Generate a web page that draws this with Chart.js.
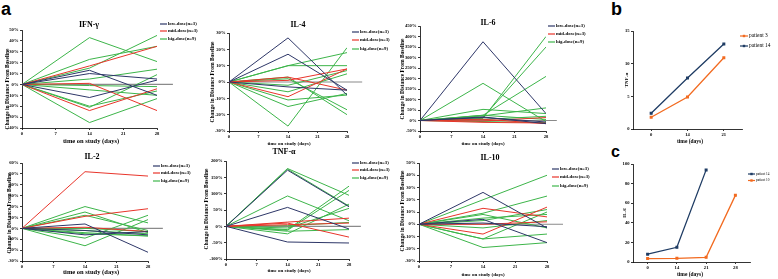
<!DOCTYPE html>
<html>
<head>
<meta charset="utf-8">
<script src="https://cdn.jsdelivr.net/npm/chart.js@4.4.1/dist/chart.umd.min.js"></script>
<style>
  html, body { margin: 0; padding: 0; background: #fff; width: 778px; height: 279px; overflow: hidden; position: relative; }
  .tag { position: absolute; font: bold 18px "Liberation Sans", Arial, sans-serif; line-height: 18px; color: #000; }
</style>
</head>
<body>
<div class="tag" style="left:1px;top:0px">a</div>
<div class="tag" style="left:611px;top:0px">b</div>
<div class="tag" style="left:611px;top:144px;font-size:16px;line-height:16px">c</div>
<script>
// ---- data ----
const days = [0, 14, 28];
const groups = ["low-dose(n=3)", "mid-dose(n=3)", "hig-dose(n=9)"];

// % change from baseline at day 0 / 14 / 28, one row per patient
const ifnLow = [[0, 13, -10], [0, 10, 5], [0, -12, 4]];
const ifnMid = [[0, 17, 35], [0, 1, -24], [0, -24, -4]];
const ifnHigh = [[0, 43, 21], [0, 23, 35], [0, 15, 45], [0, 5, 14], [0, -5, -10], [0, -20, -6], [0, -21, 9], [0, -35, -13], [0, -1, -2]];

const il4Low = [[0, 27, -8], [0, 17, -5], [0, -3, -5]];
const il4Mid = [[0, 3, -5], [0, -9, 8], [0, 1, 8]];
const il4High = [[0, 10, 18], [0, 10, 10], [0, -27, 21], [0, -15, -7], [0, -11, -8], [0, -6, 5], [0, 2, -17], [0, 3, -20], [0, -2, 7]];

const il6Low = [[0, 375, 33], [0, 17, -15], [0, 14, -7]];
const il6Mid = [[0, -2, 14], [0, -9, -12], [0, 6, -15]];
const il6High = [[0, 177, -5], [0, 53, 33], [0, 10, 400], [0, 15, 350], [0, 25, 210], [0, 22, 60], [0, 25, 5], [0, 5, 20], [0, -5, -10]];

const il2Low = [[0, 4, -22], [0, -6, -3], [0, -2, -6]];
const il2Mid = [[0, 52, 48], [0, 11, 18], [0, 1, -3]];
const il2High = [[0, 20, 5], [0, 15, -4], [0, -9, 12], [0, -16, 8], [0, -5, -7], [0, -2, -5], [0, 0, -3], [0, -4, -7], [0, 12, -2]];

const tnfLow = [[0, 172, 60], [0, 58, -8], [0, -48, -51]];
const tnfMid = [[0, 13, 25], [0, 10, -33], [0, 5, 10]];
const tnfHigh = [[0, 177, 95], [0, 175, 62], [0, 93, 17], [0, -10, 123], [0, -12, 110], [0, -23, 68], [0, -5, 55], [0, 2, 12], [0, -15, -10]];

const il10Low = [[0, 26, -3], [0, 4, -15], [0, 1, -2]];
const il10Mid = [[0, 13, 6], [0, -8, 14], [0, 0, 2]];
const il10High = [[0, 20, 40], [0, 9, 23], [0, -12, -8], [0, -19, -15], [0, 5, 8], [0, 3, 12], [0, -3, 3], [0, -12, 10], [0, 8, -3]];

// panel b: TNF-α per patient
const bDays = ["0", "14", "21"];
const bPatient3 = [1.8, 4.9, 10.9];
const bPatient14 = [2.4, 7.8, 13.0];

// panel c: IL-6 per patient
const cDays = ["0", "14", "21", "28"];
const cPatient14 = [8, 15, 94, null];
const cPatient10 = [3.5, 3.8, 4.8, 68];

// ---- styles ----
const NAVY = "#2e3768", RED = "#e8352b", GREEN = "#3db54a", GRAY = "#8a8a8a";
const ORANGE = "#f26b21", BLUE = "#1f3c64";
const SERIF = '"Liberation Serif", "Times New Roman", serif';

Chart.defaults.animation = false;
Chart.defaults.devicePixelRatio = 1;
Chart.defaults.color = "#000";
Chart.defaults.font.family = SERIF;

// titles, axis titles and legends drawn at page positions
const decor = {
  id: "decor",
  afterDraw(chart, args, o) {
    const ctx = chart.ctx;
    ctx.save();
    ctx.textBaseline = "middle";
    o.texts.forEach(t => {
      ctx.save();
      ctx.font = t.font;
      ctx.fillStyle = "#000";
      ctx.textAlign = "center";
      ctx.translate(t.x - o.ox, t.y - o.oy);
      if (t.rot) ctx.rotate(-Math.PI / 2);
      ctx.fillText(t.text, 0, 0);
      ctx.restore();
    });
    const lg = o.legend;
    ctx.font = lg.font;
    ctx.textAlign = "left";
    lg.items.forEach((it, i) => {
      const x = lg.x - o.ox, y = lg.ys[i] - o.oy;
      ctx.strokeStyle = it.color;
      ctx.lineWidth = 1.2;
      ctx.beginPath();
      ctx.moveTo(x, y);
      ctx.lineTo(x + lg.len, y);
      ctx.stroke();
      if (lg.marker) {
        ctx.fillStyle = it.color;
        ctx.fillRect(x + lg.len / 2 - 1.2, y - 1.2, 2.4, 2.4);
      }
      ctx.fillStyle = "#000";
      ctx.fillText(it.text, x + lg.len + 1, y);
    });
    ctx.restore();
  }
};

function axisStyle(extra) {
  return Object.assign({
    grid: { drawOnChartArea: false, drawTicks: true, tickLength: 2, color: "#000", lineWidth: 0.8 },
    border: { color: "#000", width: 0.8 },
  }, extra);
}

function makeChart(box, area, type, data, scales, decorOpts) {
  const c = document.createElement("canvas");
  c.width = box[2];
  c.height = box[3];
  c.style.cssText = `position:absolute;left:${box[0]}px;top:${box[1]}px;width:${box[2]}px;height:${box[3]}px`;
  document.body.appendChild(c);
  scales.x.afterFit = s => { s.height = box[1] + box[3] - area.b; };
  scales.y.afterFit = s => { s.width = area.l - box[0]; };
  decorOpts.ox = box[0];
  decorOpts.oy = box[1];
  return new Chart(c, {
    type: type,
    data: data,
    options: {
      responsive: false,
      layout: { padding: { left: 0, bottom: 0, top: area.t - box[1], right: box[0] + box[2] - area.r } },
      plugins: { legend: { display: false }, tooltip: { enabled: false }, decor: decorOpts },
      scales: scales
    },
    plugins: [decor]
  });
}

function lineSet(vals, color) {
  return {
    data: vals.map((v, i) => ({ x: days[i], y: v })),
    borderColor: color, borderWidth: 1, pointRadius: 0, tension: 0, fill: false
  };
}

function cytokine(p) {
  const tickFont = { family: SERIF, size: 4.6, weight: "bold" };
  const datasets = [
    ...p.low.map(v => lineSet(v, NAVY)),
    ...p.mid.map(v => lineSet(v, RED)),
    ...p.high.map(v => lineSet(v, GREEN)),
    { data: [{ x: 0, y: 0 }, { x: p.baseEnd, y: 0 }], borderColor: GRAY, borderWidth: 1.2, pointRadius: 0, clip: false }
  ];
  makeChart(p.box, p.area, "line", { datasets }, {
    x: axisStyle({ type: "linear", min: 0, max: 28,
      ticks: { stepSize: 7, autoSkip: false, maxRotation: 0, padding: 1.5, font: tickFont } }),
    y: axisStyle({ min: p.yMin, max: p.yMax,
      ticks: { stepSize: p.yStep, autoSkip: false, padding: 1.5, font: tickFont, callback: v => v + "%" } })
  }, {
    texts: [
      { text: p.title, x: p.tx, y: p.ty, font: `bold 8px ${SERIF}` },
      { text: "Change in Distance From Baseline", x: p.ytx, y: p.yty, font: `bold 5.5px ${SERIF}`, rot: true },
      { text: "time on study (days)", x: p.xtx, y: p.xty, font: `bold ${p.xFont}px ${SERIF}` }
    ],
    legend: { x: p.legX, ys: p.legY, len: 7, font: `bold 4.8px ${SERIF}`,
      items: [{ text: groups[0], color: NAVY }, { text: groups[1], color: RED }, { text: groups[2], color: GREEN }] }
  });
}

cytokine({ box: [0, 15, 200, 130], area: { l: 22, t: 30, r: 157, b: 128 }, yMin: -40, yMax: 50, yStep: 10,
  low: ifnLow, mid: ifnMid, high: ifnHigh, baseEnd: 31.3,
  title: "IFN-γ", tx: 89, ty: 25, ytx: 7.5, yty: 89, xtx: 91, xty: 141, xFont: 6.5, legX: 160, legY: [24, 31, 39] });

cytokine({ box: [195, 15, 195, 135], area: { l: 229, t: 33, r: 347, b: 131 }, yMin: -30, yMax: 30, yStep: 10,
  low: il4Low, mid: il4Mid, high: il4High, baseEnd: 31.6,
  title: "IL-4", tx: 298, ty: 25, ytx: 212.7, yty: 82, xtx: 289, xty: 144, xFont: 5, legX: 352, legY: [32, 40, 49] });

cytokine({ box: [385, 10, 210, 140], area: { l: 420, t: 26, r: 546, b: 131 }, yMin: -50, yMax: 450, yStep: 50,
  low: il6Low, mid: il6Mid, high: il6High, baseEnd: 30.4,
  title: "IL-6", tx: 488, ty: 23, ytx: 402.7, yty: 79, xtx: 483, xty: 144, xFont: 5, legX: 548, legY: [26, 34, 42] });

cytokine({ box: [0, 148, 200, 131], area: { l: 22, t: 163, r: 148, b: 261 }, yMin: -30, yMax: 60, yStep: 10,
  low: il2Low, mid: il2Mid, high: il2High, baseEnd: 31.3,
  title: "IL-2", tx: 92, ty: 157, ytx: 10, yty: 213, xtx: 91, xty: 272, xFont: 6.5, legX: 153, legY: [166, 173, 181] });

cytokine({ box: [195, 145, 195, 134], area: { l: 226, t: 161, r: 349, b: 259 }, yMin: -100, yMax: 200, yStep: 50,
  low: tnfLow, mid: tnfMid, high: tnfHigh, baseEnd: 30.7,
  title: "TNF-α", tx: 284, ty: 152, ytx: 206.7, yty: 209, xtx: 289, xty: 271, xFont: 5, legX: 352, legY: [163, 170, 178] });

cytokine({ box: [385, 148, 210, 131], area: { l: 419, t: 163, r: 547, b: 261 }, yMin: -30, yMax: 50, yStep: 10,
  low: il10Low, mid: il10Mid, high: il10High, baseEnd: 31.5,
  title: "IL-10", tx: 490, ty: 158, ytx: 402.7, yty: 211, xtx: 483, xty: 275, xFont: 5, legX: 552, legY: [169, 177, 186] });

// ---- panels b and c ----
function patientSet(vals, color) {
  return { data: vals, borderColor: color, backgroundColor: color, borderWidth: 1.3,
    pointRadius: 1.2, pointStyle: "rect", tension: 0, fill: false, spanGaps: false };
}

function patientChart(p) {
  const tickFont = { family: SERIF, size: 4.6, weight: "bold" };
  makeChart(p.box, p.area, "line", {
    labels: p.labels,
    datasets: p.series.map(s => patientSet(s.vals, s.color))
  }, {
    x: axisStyle({ type: "category", offset: true, ticks: { autoSkip: false, maxRotation: 0, padding: 1.5, font: tickFont } }),
    y: axisStyle({ min: 0, max: p.yMax, ticks: { stepSize: p.yStep, padding: 1.5, font: tickFont } })
  }, {
    texts: [
      { text: p.ytitle, x: p.ytx, y: p.yty, font: `bold 5px ${SERIF}`, rot: true },
      { text: "time (days)", x: p.xtx, y: p.xty, font: `bold 5.5px ${SERIF}` }
    ],
    legend: { x: p.legX, ys: p.legY, len: p.legLen, marker: true, font: `${p.legFont}px ${SERIF}`,
      items: p.series.map(s => ({ text: s.name, color: s.color })) }
  });
}

patientChart({ box: [600, 20, 178, 128], area: { l: 633, t: 31, r: 742, b: 129 }, labels: bDays, yMax: 15, yStep: 5,
  series: [{ name: "patient 3", vals: bPatient3, color: ORANGE }, { name: "patient 14", vals: bPatient14, color: BLUE }],
  ytitle: "TNF-α", ytx: 627, yty: 80, xtx: 690, xty: 142, legX: 740, legY: [36, 46], legLen: 8, legFont: 5.4 });

patientChart({ box: [600, 155, 178, 124], area: { l: 633, t: 164, r: 750, b: 262 }, labels: cDays, yMax: 100, yStep: 20,
  series: [{ name: "patient 14", vals: cPatient14, color: BLUE }, { name: "patient 10", vals: cPatient10, color: ORANGE }],
  ytitle: "IL-6", ytx: 625, yty: 213, xtx: 690, xty: 275, legX: 748, legY: [174, 180.5], legLen: 7, legFont: 3.4 });
</script>
</body>
</html>
